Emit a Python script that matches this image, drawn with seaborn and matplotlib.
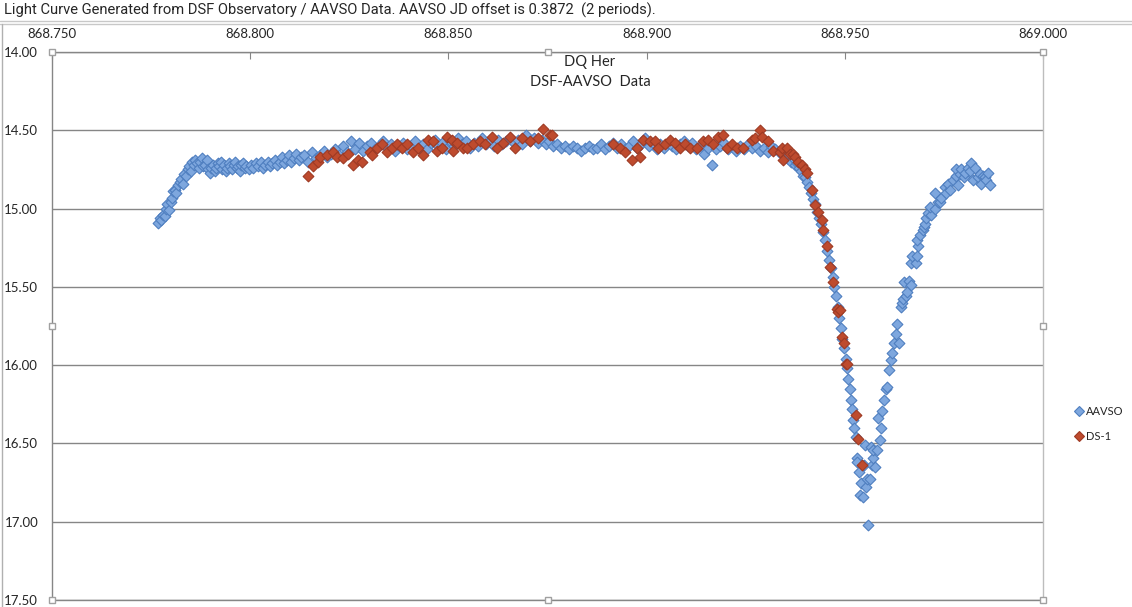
import matplotlib
matplotlib.use("Agg")
import matplotlib.pyplot as plt
from matplotlib.lines import Line2D
import pandas as pd
import seaborn as sns

# AAVSO observations (JD minus offset, magnitude)
aavso_jd = [
    868.7767, 868.7772, 868.7776, 868.7780, 868.7784, 868.7788, 868.7791, 868.7795, 868.7799, 868.7803,
    868.7806, 868.7810, 868.7814, 868.7818, 868.7822, 868.7826, 868.7830, 868.7834, 868.7838, 868.7842,
    868.7846, 868.7850, 868.7854, 868.7858, 868.7862,
    868.7866, 868.7870, 868.7874, 868.7878, 868.7882, 868.7886, 868.7890, 868.7894, 868.7898, 868.7902,
    868.7906, 868.7910, 868.7914, 868.7918, 868.7922, 868.7926, 868.7930, 868.7934, 868.7938, 868.7942,
    868.7946, 868.7950, 868.7954, 868.7958, 868.7962, 868.7966, 868.7970, 868.7974, 868.7978, 868.7982,
    868.7986, 868.7990, 868.7996, 868.8002, 868.8008, 868.8014, 868.8020, 868.8026, 868.8032, 868.8038,
    868.8044, 868.8050, 868.8056, 868.8062, 868.8068, 868.8074, 868.8080, 868.8086, 868.8092, 868.8098,
    868.8104, 868.8110, 868.8116, 868.8122, 868.8128,
    868.8135, 868.8145, 868.8155, 868.8165, 868.8175, 868.8185, 868.8195, 868.8205, 868.8215, 868.8225,
    868.8235, 868.8245, 868.8255, 868.8265, 868.8275, 868.8285, 868.8295, 868.8305, 868.8315, 868.8325,
    868.8335, 868.8345, 868.8355, 868.8365, 868.8375, 868.8385, 868.8395, 868.8405, 868.8415, 868.8425,
    868.8435, 868.8445, 868.8455, 868.8465, 868.8475, 868.8485, 868.8495, 868.8505, 868.8515, 868.8525,
    868.8535, 868.8545, 868.8555, 868.8565, 868.8575, 868.8585, 868.8595, 868.8605, 868.8615, 868.8625,
    868.8635, 868.8645, 868.8655, 868.8665, 868.8675, 868.8685, 868.8695, 868.8705, 868.8715, 868.8725,
    868.8735, 868.8745, 868.8755, 868.8765, 868.8775, 868.8785, 868.8795, 868.8805, 868.8815, 868.8825,
    868.8835, 868.8845, 868.8855, 868.8865, 868.8875, 868.8885, 868.8895, 868.8905, 868.8915, 868.8925,
    868.8935, 868.8945, 868.8955, 868.8965, 868.8975, 868.8985, 868.8995, 868.9005, 868.9015, 868.9025,
    868.9035, 868.9045, 868.9055, 868.9065, 868.9075, 868.9085, 868.9095, 868.9105, 868.9115, 868.9125,
    868.9135, 868.9145, 868.9155, 868.9165, 868.9175, 868.9185, 868.9195, 868.9205, 868.9215, 868.9225,
    868.9235, 868.9245, 868.9255, 868.9265, 868.9275, 868.9285, 868.9295, 868.9305, 868.9315, 868.9325,
    868.9335,
    868.9340, 868.9345, 868.9350, 868.9355, 868.9360, 868.9365, 868.9370, 868.9375, 868.9380, 868.9385,
    868.9390, 868.9395, 868.9400, 868.9405, 868.9410, 868.9415, 868.9420, 868.9425, 868.9430, 868.9435,
    868.9440, 868.9445, 868.9450, 868.9455, 868.9460, 868.9465, 868.9470, 868.9474, 868.9478, 868.9482,
    868.9486, 868.9490, 868.9494, 868.9498, 868.9502, 868.9506, 868.9509, 868.9512, 868.9515, 868.9518,
    868.9521, 868.9524, 868.9527, 868.9530, 868.9532, 868.9535, 868.9538, 868.9541, 868.9546, 868.9549,
    868.9553, 868.9556, 868.9559,
    868.9551, 868.9564, 868.9565, 868.9569, 868.9570, 868.9571, 868.9576, 868.9581, 868.9589, 868.9584,
    868.9591, 868.9594, 868.9599, 868.9604, 868.9606, 868.9611, 868.9616, 868.9619, 868.9624, 868.9636,
    868.9629, 868.9631, 868.9641, 868.9644, 868.9646, 868.9654, 868.9656, 868.9649, 868.9661, 868.9666,
    868.9666, 868.9679, 868.9669, 868.9681, 868.9684, 868.9681, 868.9689, 868.9697, 868.9700, 868.9702,
    868.9704, 868.9709, 868.9717, 868.9714, 868.9727, 868.9727, 868.9735, 868.9740, 868.9742, 868.9752,
    868.9755, 868.9760, 868.9765, 868.9772, 868.9780, 868.9785, 868.9780, 868.9790, 868.9793, 868.9800,
    868.9803, 868.9810, 868.9815, 868.9818, 868.9823, 868.9828, 868.9836, 868.9840, 868.9843, 868.9848,
    868.9853, 868.9857, 868.9861, 868.9866,
]
aavso_mag = [
    15.09, 15.06, 15.07, 15.04, 15.05, 15.00, 14.97, 15.01, 14.96, 14.93,
    14.89, 14.88, 14.90, 14.85, 14.83, 14.81, 14.84, 14.78, 14.79, 14.75,
    14.73, 14.76, 14.70, 14.72, 14.69,
    14.71, 14.74, 14.70, 14.68, 14.73, 14.72, 14.69, 14.75, 14.77, 14.74,
    14.72, 14.76, 14.74, 14.71, 14.73, 14.70, 14.75, 14.72, 14.76, 14.74,
    14.71, 14.73, 14.75, 14.72, 14.70, 14.74, 14.73, 14.76, 14.72, 14.71,
    14.74, 14.73, 14.75, 14.72, 14.74, 14.71, 14.73, 14.70, 14.74, 14.72,
    14.70, 14.73, 14.71, 14.69, 14.72, 14.70, 14.67, 14.71, 14.69, 14.66,
    14.70, 14.68, 14.65, 14.69, 14.67,
    14.66, 14.70, 14.64, 14.68, 14.66, 14.63, 14.67, 14.65, 14.62, 14.66,
    14.60, 14.64, 14.57, 14.62, 14.58, 14.63, 14.60, 14.58, 14.62, 14.60,
    14.57, 14.61, 14.59, 14.63, 14.60, 14.58, 14.62, 14.60, 14.57, 14.61,
    14.59, 14.62, 14.58, 14.56, 14.60, 14.58, 14.62, 14.57, 14.60, 14.55,
    14.59, 14.57, 14.61, 14.58, 14.60, 14.55, 14.59, 14.57, 14.60, 14.56,
    14.59, 14.57, 14.55, 14.58, 14.56, 14.59, 14.53, 14.57, 14.55, 14.58,
    14.56, 14.59, 14.57, 14.60, 14.59, 14.61, 14.60, 14.62, 14.60, 14.61,
    14.63, 14.61, 14.60, 14.62, 14.61, 14.59, 14.62, 14.60, 14.58, 14.61,
    14.59, 14.62, 14.60, 14.57, 14.61, 14.59, 14.55, 14.60, 14.58, 14.62,
    14.59, 14.61, 14.58, 14.60, 14.62, 14.59, 14.57, 14.60, 14.58, 14.62,
    14.60, 14.65, 14.61, 14.72, 14.62, 14.60, 14.58, 14.62, 14.60, 14.63,
    14.60, 14.62, 14.59, 14.61, 14.60, 14.63, 14.61, 14.64, 14.60, 14.62,
    14.64,
    14.63, 14.66, 14.64, 14.68, 14.66, 14.70, 14.68, 14.72, 14.71, 14.74,
    14.76, 14.79, 14.80, 14.83, 14.86, 14.90, 14.94, 14.97, 15.02, 15.06,
    15.10, 15.15, 15.20, 15.27, 15.33, 15.38, 15.44, 15.50, 15.56, 15.63,
    15.70, 15.76, 15.83, 15.89, 15.96, 16.02, 16.09, 16.15, 16.22, 16.28,
    16.35, 16.40, 16.46, 16.59, 16.62, 16.68, 16.83, 16.75, 16.84, 16.64,
    16.78, 16.73, 17.02,
    16.51, 16.73, 16.52, 16.64, 16.59, 16.54, 16.65, 16.54, 16.48, 16.34,
    16.40, 16.29, 16.22, 16.15, 16.14, 16.03, 15.97, 15.92, 15.86, 15.86,
    15.80, 15.74, 15.63, 15.60, 15.58, 15.56, 15.53, 15.47, 15.46, 15.49,
    15.35, 15.35, 15.30, 15.30, 15.24, 15.20, 15.17, 15.14, 15.12, 15.10,
    15.06, 15.03, 15.04, 14.99, 15.00, 14.90, 14.96, 14.96, 14.93, 14.86,
    14.90, 14.84, 14.88, 14.82, 14.79, 14.85, 14.75, 14.78, 14.75, 14.80,
    14.77, 14.74, 14.76, 14.71, 14.82, 14.74, 14.80, 14.78, 14.84, 14.79,
    14.80, 14.82, 14.77, 14.85,
]

# DS-1 observations from the DSF observatory
ds1_jd = [
    868.8146, 868.8158, 868.8171, 868.8176, 868.8194, 868.8209, 868.8219, 868.8234, 868.8247, 868.8259,
    868.8272, 868.8282, 868.8302, 868.8307, 868.8320, 868.8333, 868.8345, 868.8358, 868.8370, 868.8383,
    868.8396, 868.8411, 868.8423, 868.8436, 868.8449, 868.8461, 868.8471, 868.8484, 868.8497, 868.8509,
    868.8511, 868.8522, 868.8537, 868.8547, 868.8562, 868.8580, 868.8592, 868.8610, 868.8623, 868.8638,
    868.8656, 868.8668, 868.8686, 868.8706, 868.8726, 868.8739, 868.8756, 868.8762,
    868.8915, 868.8933, 868.8946, 868.8963, 868.8976, 868.8984, 868.8991, 868.9009, 868.9021, 868.9029,
    868.9047, 868.9059, 868.9072, 868.9084, 868.9097, 868.9110, 868.9127, 868.9142, 868.9155, 868.9168,
    868.9180, 868.9193, 868.9203, 868.9216, 868.9228, 868.9243, 868.9266, 868.9274, 868.9286, 868.9291,
    868.9306, 868.9319, 868.9337, 868.9342, 868.9343, 868.9354, 868.9362, 868.9370, 868.9375, 868.9382,
    868.9392, 868.9400, 868.9405, 868.9418, 868.9425, 868.9433, 868.9443, 868.9445, 868.9455, 868.9463,
    868.9470, 868.9481, 868.9483, 868.9488, 868.9493, 868.9498, 868.9503, 868.9506, 868.9529, 868.9534,
    868.9544,
]
ds1_mag = [
    14.79, 14.73, 14.70, 14.67, 14.66, 14.64, 14.67, 14.68, 14.65, 14.72,
    14.69, 14.70, 14.64, 14.66, 14.61, 14.59, 14.64, 14.61, 14.59, 14.61,
    14.59, 14.64, 14.61, 14.66, 14.56, 14.57, 14.63, 14.61, 14.54, 14.56,
    14.63, 14.58, 14.61, 14.61, 14.59, 14.57, 14.59, 14.54, 14.61, 14.58,
    14.54, 14.61, 14.55, 14.57, 14.55, 14.49, 14.53, 14.53,
    14.59, 14.61, 14.64, 14.69, 14.61, 14.67, 14.56, 14.57, 14.57, 14.61,
    14.59, 14.56, 14.58, 14.61, 14.59, 14.61, 14.61, 14.57, 14.56, 14.59,
    14.54, 14.53, 14.61, 14.59, 14.61, 14.61, 14.56, 14.55, 14.50, 14.54,
    14.57, 14.63, 14.64, 14.61, 14.69, 14.61, 14.65, 14.65, 14.67, 14.70,
    14.72, 14.75, 14.77, 14.88, 14.98, 15.02, 15.07, 15.14, 15.24, 15.37,
    15.47, 15.64, 15.66, 15.65, 15.82, 15.86, 15.99, 15.99, 16.32, 16.47,
    16.64,
]

x_ticks = [868.750, 868.800, 868.850, 868.900, 868.950, 869.000]
y_ticks = [14.00, 14.50, 15.00, 15.50, 16.00, 16.50, 17.00, 17.50]

aavso = pd.DataFrame({"jd": aavso_jd, "mag": aavso_mag})
ds1 = pd.DataFrame({"jd": ds1_jd, "mag": ds1_mag})

sns.set_style("white")
plt.rcParams["font.family"] = ["Lato", "DejaVu Sans"]

blue_face, blue_edge = "#7EA7DE", "#4F7FC0"
red_face, red_edge = "#BE4B2E", "#9E3A24"

fig = plt.figure(figsize=(11.32, 6.07), dpi=100)
ax = fig.add_axes([52 / 1132, 1 - 600 / 607, (1043 - 52) / 1132, (600 - 52) / 607])

sns.scatterplot(data=aavso, x="jd", y="mag", marker="D", s=30, color=blue_face,
                edgecolor=blue_edge, linewidth=0.8, ax=ax, legend=False, zorder=3)
sns.scatterplot(data=ds1, x="jd", y="mag", marker="D", s=30, color=red_face,
                edgecolor=red_edge, linewidth=0.8, ax=ax, legend=False, zorder=4)

ax.set_xlim(868.75, 869.0)
ax.set_ylim(17.5, 14.0)
ax.xaxis.tick_top()
ax.set_xticks(x_ticks)
ax.set_xticklabels([f"{v:.3f}" for v in x_ticks])
ax.set_yticks(y_ticks)
ax.set_yticklabels([f"{v:.2f}" for v in y_ticks])
ax.tick_params(axis="x", direction="in", length=5, color="#868686", pad=9, labelsize=9.5)
ax.tick_params(axis="y", length=0, pad=10, labelsize=9.5)
ax.set_xlabel("")
ax.set_ylabel("")
ax.yaxis.grid(True, color="#868686", lw=1)
ax.xaxis.grid(False)
for side in ["left", "top", "right", "bottom"]:
    ax.spines[side].set_color("#868686")
    ax.spines[side].set_linewidth(1)
ax.spines["right"].set_color("#bdbdbd")

# selection handles of the plot area
for hx, hy in [(0, 0), (0.5, 0), (1, 0), (0, 0.5), (1, 0.5), (0, 1), (0.5, 1), (1, 1)]:
    ax.plot(hx, hy, marker="s", ms=5, mfc="white", mec="#a0a0a0", mew=1,
            transform=ax.transAxes, clip_on=False, zorder=6)

fig.text(590 / 1132, 1 - 62 / 607, "DQ Her", ha="center", va="center", fontsize=10.5)
fig.text(590 / 1132, 1 - 82 / 607, "DSF-AAVSO  Data", ha="center", va="center", fontsize=10.5)

fig.text(4 / 1132, 1 - 10 / 607,
         "Light Curve Generated from DSF Observatory / AAVSO Data. AAVSO JD offset is 0.3872  (2 periods).",
         ha="left", va="center", fontsize=10.6, family=["Roboto", "DejaVu Sans"])
fig.add_artist(Line2D([0, 1], [1 - 21 / 607, 1 - 21 / 607], color="#c8c8c8", lw=1))
fig.add_artist(Line2D([0, 1], [1 - 24 / 607, 1 - 24 / 607], color="#c8c8c8", lw=1))
fig.add_artist(Line2D([2 / 1132, 2 / 1132], [0, 1 - 24 / 607], color="#b0b0b0", lw=1))

handles = [
    Line2D([], [], marker="D", ls="", ms=5, mfc=blue_face, mec=blue_edge, mew=0.8, label="AAVSO"),
    Line2D([], [], marker="D", ls="", ms=5, mfc=red_face, mec=red_edge, mew=0.8, label="DS-1"),
]
fig.legend(handles=handles, loc="center left", bbox_to_anchor=(1075 / 1132, 1 - 424 / 607),
           frameon=False, fontsize=8, handletextpad=0.2, labelspacing=1.2, handlelength=0.8,
           borderaxespad=0, borderpad=0)

fig.savefig("out.png", dpi=100)
